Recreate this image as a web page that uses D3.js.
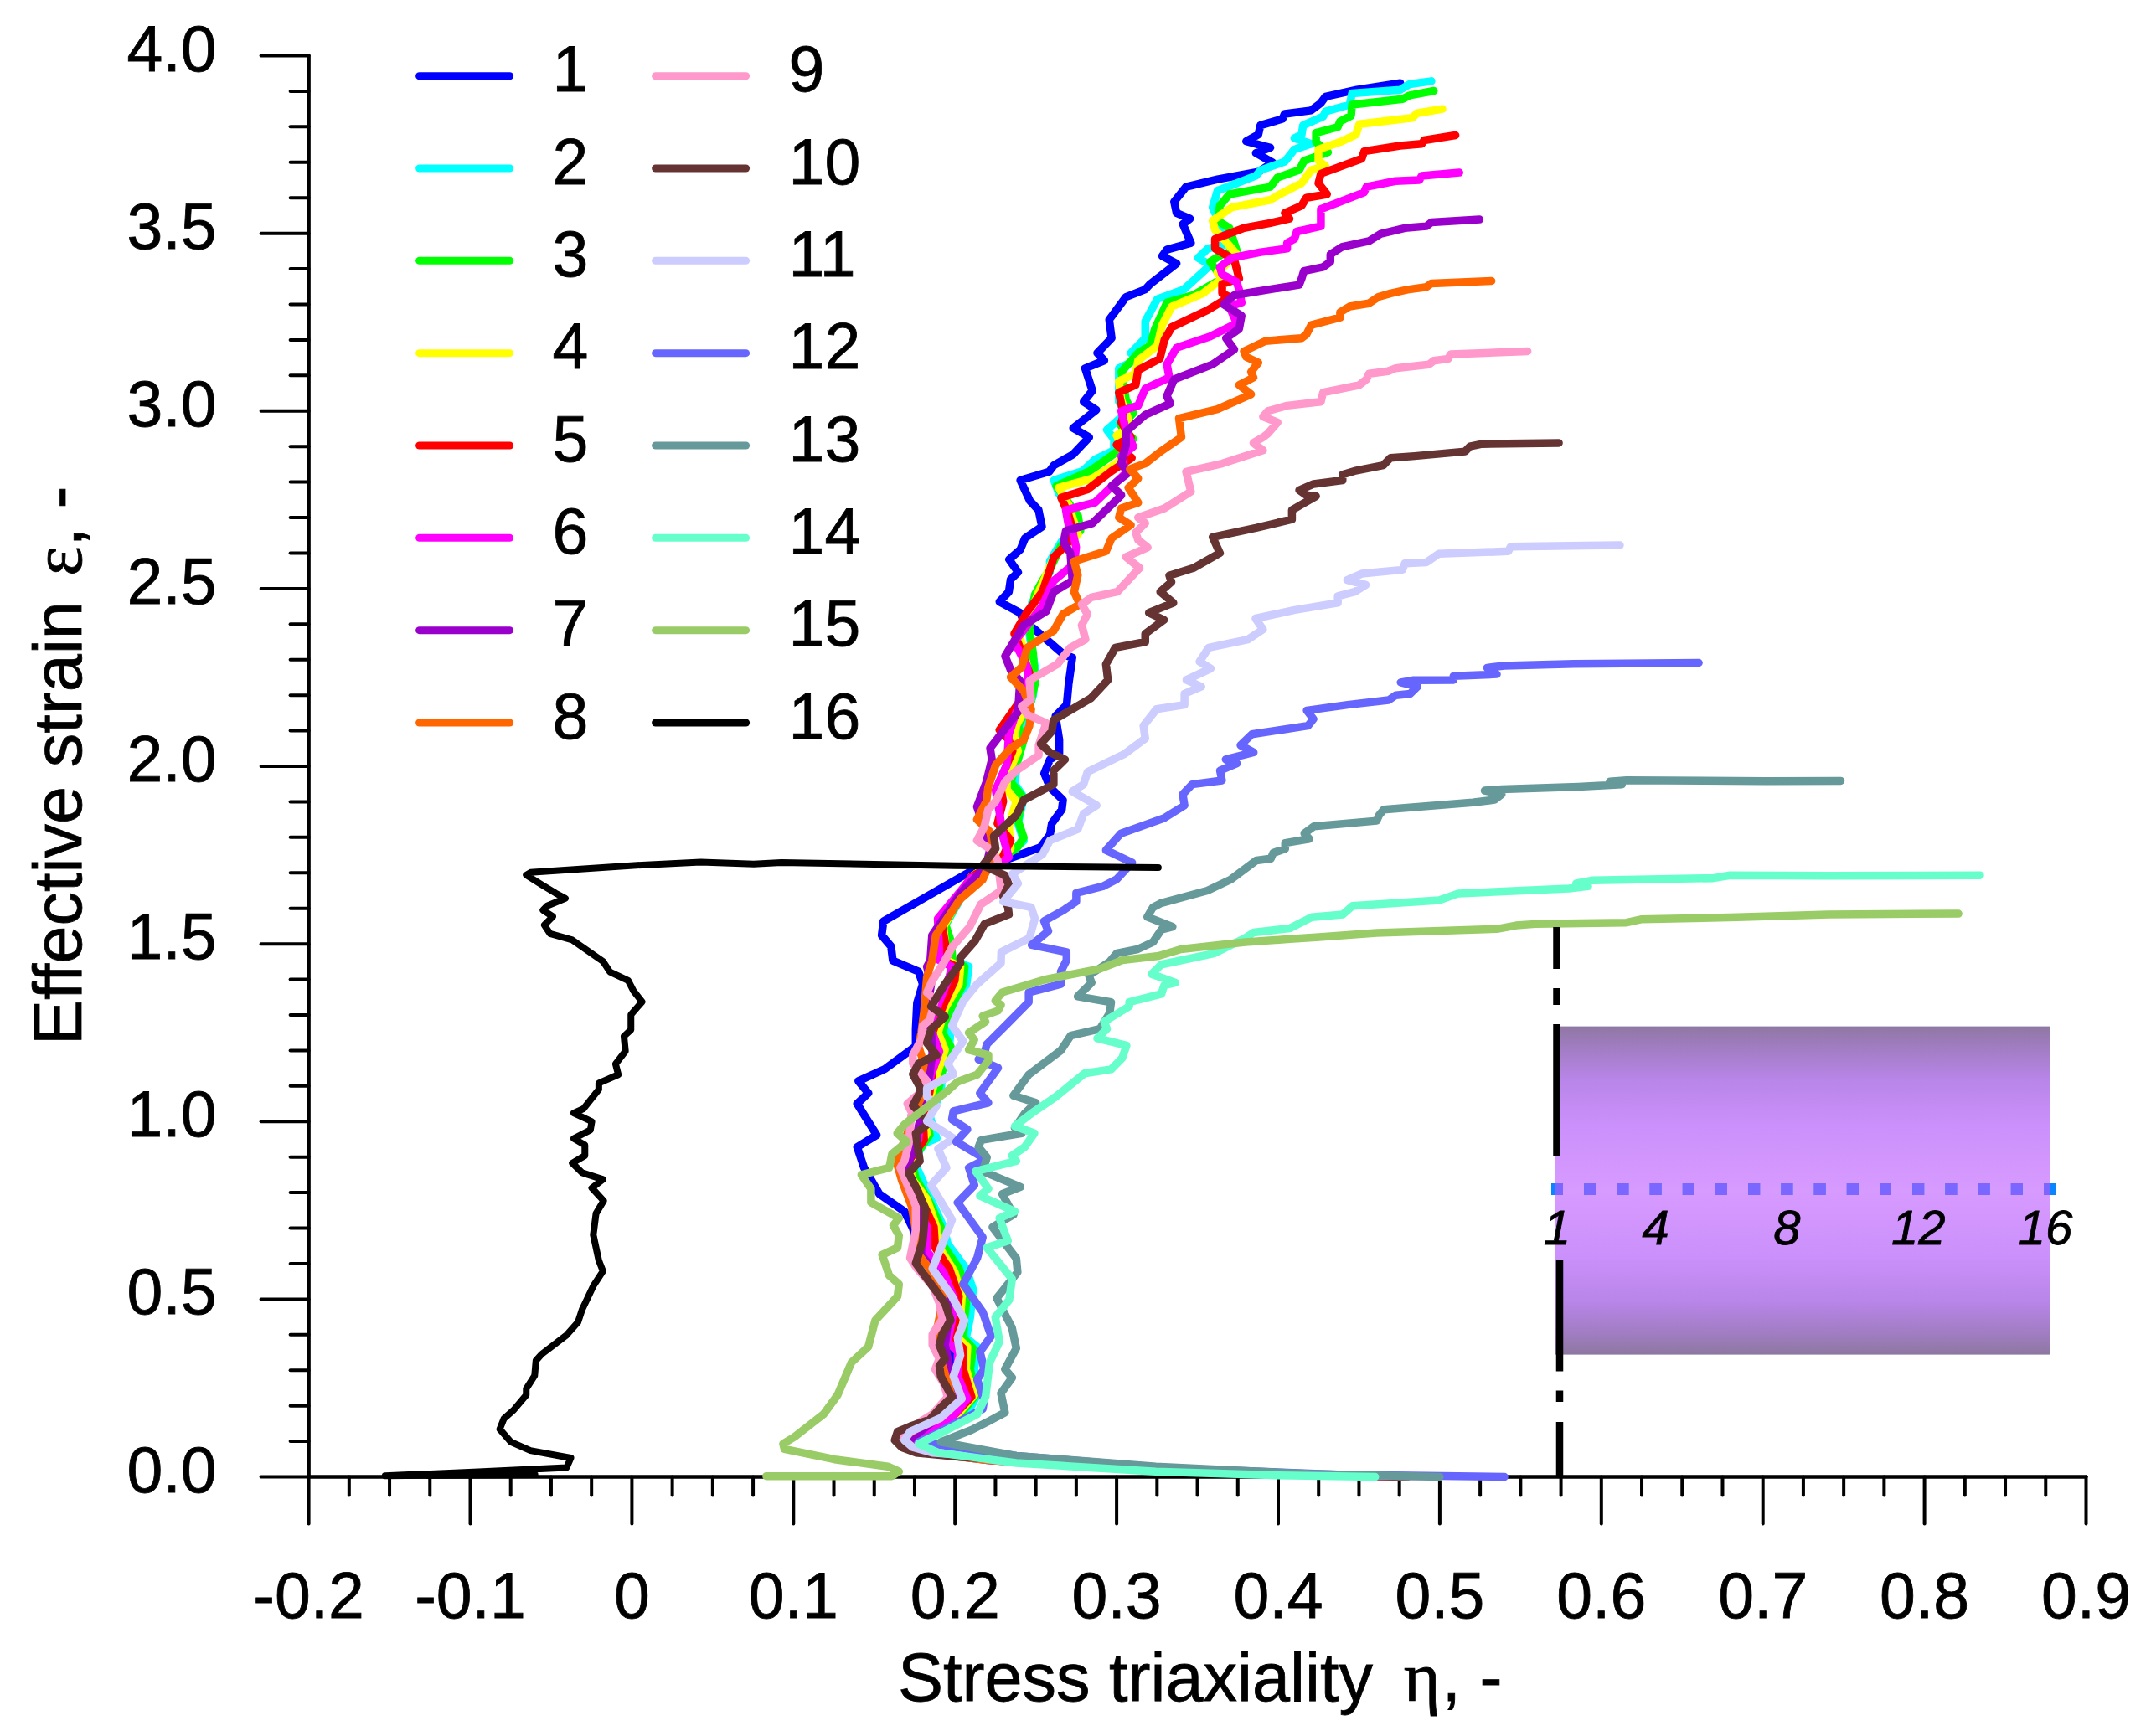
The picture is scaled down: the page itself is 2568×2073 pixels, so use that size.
<!DOCTYPE html>
<html>
<head>
<meta charset="utf-8">
<script src="https://d3js.org/d3.v7.min.js"></script>
<style>
  html, body { margin: 0; padding: 0; background: #fff; }
  svg { display: block; }
  text { font-family: "Liberation Sans", Arial, sans-serif; fill: #000; stroke: #000; stroke-width: 0.8px; }
</style>
</head>
<body>
<svg id="chart" width="2568" height="2073"></svg>
<script>
// curves as [stress triaxiality, effective strain]
const curve1 = [[0.4755,3.923],[0.4487,3.904],[0.4293,3.885],[0.4264,3.867],[0.4204,3.846],[0.404,3.836],[0.4026,3.822],[0.389,3.804],[0.3877,3.778],[0.3802,3.759],[0.3951,3.741],[0.3862,3.726],[0.3966,3.699],[0.3877,3.673],[0.3624,3.652],[0.343,3.631],[0.3356,3.589],[0.3371,3.557],[0.3454,3.541],[0.341,3.526],[0.346,3.473],[0.3311,3.454],[0.3282,3.436],[0.3371,3.415],[0.3207,3.357],[0.3177,3.342],[0.3058,3.321],[0.2954,3.257],[0.2969,3.205],[0.288,3.163],[0.2924,3.142],[0.2805,3.12],[0.285,3.057],[0.2796,3.026],[0.2874,3.003],[0.2731,2.952],[0.283,2.926],[0.2731,2.878],[0.2612,2.847],[0.2582,2.829],[0.2404,2.805],[0.2463,2.747],[0.2517,2.721],[0.2538,2.674],[0.2433,2.642],[0.2404,2.61],[0.2335,2.582],[0.239,2.546],[0.2344,2.526],[0.2333,2.491],[0.2275,2.463],[0.2402,2.432],[0.2425,2.408],[0.2494,2.385],[0.2675,2.314],[0.2726,2.306],[0.2703,2.232],[0.2691,2.173],[0.2622,2.141],[0.2645,2.074],[0.2645,2.035],[0.2587,2.019],[0.2552,1.98],[0.2587,1.941],[0.2668,1.905],[0.2661,1.878],[0.2599,1.839],[0.2587,1.807],[0.2529,1.772],[0.231,1.736],[0.2101,1.705],[0.1557,1.5635],[0.1546,1.524],[0.1604,1.493],[0.1615,1.453],[0.1774,1.422],[0.18,1.387],[0.1765,1.334],[0.1757,1.26],[0.1757,1.212],[0.1566,1.148],[0.1402,1.114],[0.1463,1.08],[0.1394,1.05],[0.1515,0.962],[0.1394,0.928],[0.1437,0.87],[0.1532,0.796],[0.1687,0.747],[0.1739,0.699],[0.178,0.63],[0.19,0.57],[0.2,0.5],[0.198,0.44],[0.196,0.38],[0.2,0.3],[0.206,0.22],[0.198,0.17],[0.176,0.11],[0.172,0.093],[0.184,0.068],[0.22,0.05],[0.32,0.018],[0.42,0.006],[0.5,0]];
const curve2 = [[0.4948,3.9285],[0.4814,3.92],[0.4755,3.904],[0.4457,3.894],[0.4442,3.862],[0.4293,3.843],[0.4278,3.829],[0.4154,3.804],[0.4145,3.778],[0.41,3.768],[0.4204,3.752],[0.41,3.736],[0.4041,3.702],[0.3892,3.678],[0.3862,3.662],[0.3624,3.62],[0.3594,3.573],[0.3639,3.526],[0.3713,3.473],[0.3564,3.457],[0.3505,3.431],[0.3579,3.41],[0.3415,3.342],[0.3252,3.315],[0.3177,3.252],[0.3177,3.205],[0.3088,3.163],[0.3133,3.147],[0.3014,3.12],[0.3014,3.026],[0.3058,2.994],[0.294,2.947],[0.2984,2.921],[0.2984,2.889],[0.2865,2.863],[0.279,2.831],[0.2612,2.805],[0.2642,2.768],[0.2731,2.705],[0.2761,2.663],[0.2657,2.631],[0.2587,2.577],[0.2587,2.546],[0.2541,2.522],[0.2518,2.491],[0.2476,2.46],[0.2448,2.404],[0.2471,2.342],[0.2494,2.279],[0.2483,2.2],[0.2425,2.12],[0.24,2.09],[0.238,1.996],[0.237,1.95],[0.2425,1.913],[0.239,1.839],[0.2425,1.79],[0.238,1.772],[0.2263,1.736],[0.2101,1.68],[0.1962,1.57],[0.1905,1.524],[0.194,1.461],[0.2085,1.436],[0.2068,1.378],[0.1981,1.3],[0.1964,1.211],[0.1921,1.143],[0.1912,1.08],[0.1843,1.016],[0.1886,0.953],[0.1808,0.938],[0.1731,0.884],[0.1774,0.86],[0.186,0.772],[0.1929,0.703],[0.1955,0.655],[0.2068,0.586],[0.2111,0.528],[0.2094,0.449],[0.2068,0.391],[0.2137,0.366],[0.212,0.303],[0.2137,0.23],[0.2085,0.186],[0.1964,0.147],[0.1826,0.112],[0.1757,0.093],[0.186,0.068],[0.2206,0.049],[0.324,0.017],[0.42,0.006],[0.49,0]];
const curve3 = [[0.4963,3.901],[0.4814,3.8885],[0.477,3.878],[0.4457,3.862],[0.4451,3.831],[0.4383,3.815],[0.4368,3.799],[0.4234,3.783],[0.4234,3.757],[0.4308,3.728],[0.416,3.704],[0.413,3.678],[0.3996,3.657],[0.3951,3.631],[0.3698,3.61],[0.3639,3.578],[0.3624,3.536],[0.3698,3.515],[0.3743,3.452],[0.3653,3.441],[0.3579,3.42],[0.3653,3.373],[0.3475,3.326],[0.3311,3.305],[0.3237,3.231],[0.3207,3.184],[0.3133,3.163],[0.3029,3.11],[0.3058,3.031],[0.3103,2.994],[0.3029,2.957],[0.3103,2.921],[0.2984,2.879],[0.2835,2.831],[0.2627,2.789],[0.2761,2.705],[0.2776,2.663],[0.2657,2.621],[0.2587,2.554],[0.2541,2.522],[0.2494,2.483],[0.246,2.389],[0.2483,2.318],[0.2494,2.232],[0.2471,2.184],[0.239,2.114],[0.2425,2.074],[0.239,2.019],[0.2344,1.956],[0.2414,1.917],[0.239,1.846],[0.2425,1.799],[0.238,1.768],[0.2263,1.736],[0.2101,1.689],[0.194,1.555],[0.1974,1.508],[0.1985,1.453],[0.2059,1.436],[0.205,1.387],[0.1964,1.309],[0.1921,1.25],[0.1973,1.211],[0.1921,1.143],[0.1895,1.084],[0.1826,1.016],[0.1843,0.962],[0.1731,0.889],[0.1757,0.84],[0.1843,0.772],[0.1912,0.703],[0.1929,0.65],[0.2024,0.586],[0.2076,0.518],[0.2059,0.449],[0.205,0.391],[0.2111,0.362],[0.2094,0.303],[0.2128,0.23],[0.205,0.186],[0.1808,0.112],[0.1748,0.093],[0.186,0.068],[0.2206,0.049],[0.32,0.018],[0.42,0.006],[0.49,0]];
const curve4 = [[0.5016,3.85],[0.4859,3.838],[0.4829,3.825],[0.4502,3.8075],[0.4481,3.778],[0.4383,3.757],[0.4249,3.736],[0.4249,3.705],[0.4293,3.689],[0.4204,3.678],[0.4145,3.641],[0.4011,3.61],[0.3951,3.594],[0.3713,3.573],[0.3594,3.536],[0.3609,3.51],[0.3683,3.473],[0.3743,3.441],[0.3683,3.415],[0.3624,3.389],[0.3653,3.373],[0.3535,3.331],[0.3341,3.294],[0.3282,3.242],[0.3252,3.184],[0.3133,3.142],[0.3118,3.105],[0.3014,3.084],[0.3029,3.031],[0.3088,2.957],[0.3,2.931],[0.3058,2.884],[0.3,2.852],[0.285,2.81],[0.2642,2.784],[0.2701,2.737],[0.2761,2.6525],[0.2612,2.589],[0.2564,2.538],[0.2518,2.491],[0.2471,2.436],[0.2402,2.365],[0.2448,2.279],[0.246,2.184],[0.2379,2.114],[0.2367,2.074],[0.239,2.043],[0.2321,1.972],[0.2321,1.933],[0.2379,1.9015],[0.2333,1.831],[0.2344,1.768],[0.2263,1.736],[0.2101,1.689],[0.1928,1.548],[0.1951,1.453],[0.2033,1.436],[0.2024,1.387],[0.1938,1.319],[0.1895,1.25],[0.1938,1.202],[0.1895,1.143],[0.186,1.089],[0.18,1.016],[0.1826,0.967],[0.1722,0.889],[0.1731,0.84],[0.1826,0.782],[0.1886,0.703],[0.1903,0.645],[0.1998,0.576],[0.2042,0.508],[0.2033,0.449],[0.2016,0.391],[0.2076,0.366],[0.2068,0.303],[0.2119,0.23],[0.2016,0.176],[0.1791,0.112],[0.1739,0.093],[0.186,0.068],[0.22,0.049],[0.32,0.018],[0.42,0.006],[0.49,0]];
const curve5 = [[0.5097,3.776],[0.4903,3.762],[0.4889,3.752],[0.4755,3.7465],[0.4532,3.731],[0.4517,3.71],[0.4264,3.668],[0.4249,3.641],[0.4302,3.61],[0.4174,3.6],[0.4145,3.578],[0.4041,3.557],[0.407,3.541],[0.3951,3.529],[0.3788,3.515],[0.3609,3.484],[0.3609,3.457],[0.3728,3.426],[0.3758,3.373],[0.3653,3.357],[0.3653,3.331],[0.3698,3.321],[0.3564,3.284],[0.3341,3.236],[0.3296,3.2],[0.3267,3.147],[0.3133,3.115],[0.3118,3.073],[0.3014,3.052],[0.3043,2.989],[0.3029,2.968],[0.3088,2.926],[0.3,2.905],[0.3094,2.868],[0.2969,2.831],[0.282,2.779],[0.2657,2.756],[0.2701,2.71],[0.2731,2.663],[0.2716,2.637],[0.2612,2.589],[0.2587,2.554],[0.2541,2.491],[0.2448,2.436],[0.2367,2.373],[0.2402,2.334],[0.246,2.263],[0.2402,2.184],[0.2275,2.102],[0.2333,2.074],[0.2356,2.043],[0.2275,1.956],[0.2298,1.9015],[0.2263,1.839],[0.2344,1.791],[0.2286,1.736],[0.2101,1.689],[0.1916,1.563],[0.1939,1.5],[0.1928,1.453],[0.2007,1.436],[0.1998,1.397],[0.1929,1.329],[0.186,1.25],[0.1895,1.192],[0.186,1.143],[0.1843,1.084],[0.18,1.016],[0.1808,0.948],[0.1705,0.884],[0.1714,0.83],[0.18,0.772],[0.1869,0.703],[0.1877,0.645],[0.1964,0.586],[0.2024,0.508],[0.2007,0.449],[0.1981,0.391],[0.205,0.362],[0.205,0.303],[0.2102,0.225],[0.1998,0.176],[0.1774,0.108],[0.1731,0.093],[0.1843,0.068],[0.22,0.048],[0.32,0.018],[0.42,0.006],[0.49,0]];
const curve6 = [[0.5121,3.671],[0.4888,3.662],[0.4874,3.65],[0.4725,3.647],[0.4546,3.631],[0.4531,3.615],[0.4264,3.568],[0.4264,3.52],[0.4115,3.505],[0.41,3.484],[0.4055,3.473],[0.4055,3.457],[0.3892,3.447],[0.3713,3.431],[0.3639,3.405],[0.3653,3.384],[0.3743,3.363],[0.3758,3.3415],[0.3773,3.305],[0.3698,3.294],[0.3743,3.247],[0.3579,3.21],[0.3371,3.178],[0.3311,3.131],[0.3326,3.094],[0.3177,3.063],[0.3133,3.015],[0.3029,3.0],[0.3058,2.947],[0.3103,2.9],[0.3029,2.873],[0.3058,2.826],[0.2865,2.742],[0.2686,2.721],[0.27,2.684],[0.2731,2.6525],[0.2749,2.617],[0.2738,2.57],[0.261,2.522],[0.2541,2.452],[0.2448,2.397],[0.2367,2.35],[0.2448,2.279],[0.246,2.184],[0.2379,2.153],[0.2333,2.09],[0.2321,2.004],[0.2251,1.933],[0.2275,1.87],[0.2298,1.799],[0.2333,1.744],[0.2263,1.721],[0.2101,1.685],[0.1893,1.571],[0.1905,1.453],[0.1981,1.436],[0.1964,1.407],[0.1895,1.329],[0.1843,1.27],[0.1903,1.197],[0.1852,1.133],[0.1826,1.084],[0.1783,1.016],[0.1774,0.948],[0.1687,0.884],[0.1696,0.821],[0.1774,0.762],[0.1826,0.703],[0.1826,0.635],[0.1929,0.576],[0.1998,0.498],[0.1981,0.44],[0.1955,0.381],[0.2016,0.352],[0.2016,0.283],[0.2076,0.22],[0.1981,0.166],[0.1757,0.108],[0.1722,0.093],[0.1843,0.068],[0.22,0.048],[0.32,0.018],[0.42,0.006],[0.49,0]];
const curve7 = [[0.5246,3.539],[0.4948,3.531],[0.4918,3.52],[0.4784,3.515],[0.4636,3.499],[0.4561,3.478],[0.4398,3.4625],[0.4323,3.441],[0.4323,3.42],[0.4278,3.405],[0.4159,3.394],[0.4145,3.373],[0.413,3.355],[0.3862,3.336],[0.3728,3.326],[0.3662,3.3],[0.3773,3.268],[0.3758,3.231],[0.3677,3.205],[0.3728,3.173],[0.3594,3.131],[0.3356,3.089],[0.3311,3.042],[0.3332,3.021],[0.3177,2.989],[0.3058,2.942],[0.3058,2.905],[0.3028,2.852],[0.3073,2.826],[0.2969,2.789],[0.3029,2.763],[0.285,2.684],[0.2686,2.663],[0.2672,2.631],[0.2714,2.6],[0.2726,2.522],[0.261,2.491],[0.2564,2.436],[0.2425,2.397],[0.231,2.31],[0.2344,2.271],[0.2402,2.24],[0.239,2.153],[0.2217,2.051],[0.2228,2.019],[0.2194,1.956],[0.2136,1.886],[0.2194,1.807],[0.2217,1.768],[0.2194,1.721],[0.2032,1.642],[0.1858,1.524],[0.1847,1.453],[0.1826,1.436],[0.1852,1.387],[0.1826,1.309],[0.1852,1.26],[0.186,1.192],[0.1843,1.133],[0.1808,1.055],[0.1774,0.987],[0.1757,0.938],[0.1714,0.884],[0.1687,0.83],[0.1757,0.762],[0.1791,0.703],[0.1791,0.625],[0.1895,0.567],[0.1955,0.489],[0.1955,0.43],[0.1938,0.371],[0.1964,0.313],[0.1998,0.235],[0.1947,0.186],[0.1731,0.108],[0.1696,0.093],[0.1826,0.068],[0.22,0.047],[0.32,0.018],[0.42,0.006],[0.49,0]];
const curve8 = [[0.532,3.366],[0.4948,3.359],[0.4918,3.349],[0.48,3.3415],[0.4695,3.331],[0.4621,3.321],[0.4561,3.303],[0.4442,3.294],[0.4383,3.278],[0.4383,3.263],[0.4204,3.242],[0.4174,3.215],[0.4145,3.205],[0.3921,3.197],[0.3788,3.168],[0.3802,3.152],[0.3877,3.136],[0.3832,3.11],[0.3847,3.094],[0.3758,3.073],[0.3832,3.047],[0.3624,3.005],[0.3386,2.979],[0.3401,2.926],[0.3267,2.884],[0.3177,2.852],[0.3082,2.8365],[0.3133,2.81],[0.3073,2.784],[0.3133,2.742],[0.3028,2.726],[0.3014,2.7],[0.3088,2.679],[0.2969,2.642],[0.2934,2.605],[0.2737,2.577],[0.276,2.538],[0.2737,2.491],[0.2772,2.456],[0.2668,2.428],[0.261,2.381],[0.2448,2.334],[0.2413,2.279],[0.2344,2.251],[0.2425,2.212],[0.2471,2.161],[0.246,2.114],[0.2425,2.074],[0.2344,2.051],[0.2252,2.004],[0.2205,1.941],[0.2194,1.9015],[0.2136,1.85],[0.2217,1.815],[0.224,1.752],[0.2171,1.681],[0.2032,1.626],[0.1881,1.524],[0.1858,1.453],[0.1826,1.407],[0.1808,1.309],[0.1791,1.25],[0.1774,1.211],[0.1808,1.163],[0.1791,1.124],[0.18,1.075],[0.1731,1.016],[0.1705,0.967],[0.1636,0.889],[0.167,0.835],[0.1731,0.762],[0.1757,0.694],[0.1774,0.625],[0.1843,0.586],[0.1929,0.508],[0.1895,0.43],[0.1869,0.391],[0.1929,0.303],[0.1981,0.225],[0.1912,0.186],[0.1687,0.112],[0.1661,0.093],[0.1808,0.068],[0.22,0.047],[0.32,0.018],[0.42,0.006],[0.49,0]];
const curve9 = [[0.5543,3.168],[0.5067,3.1595],[0.5052,3.147],[0.4963,3.1416],[0.4933,3.131],[0.4725,3.12],[0.468,3.112],[0.4562,3.105],[0.4546,3.089],[0.4502,3.073],[0.4278,3.052],[0.4264,3.026],[0.4055,3.015],[0.3936,3.0],[0.3906,2.984],[0.3996,2.968],[0.3936,2.9365],[0.3906,2.926],[0.3847,2.91],[0.3906,2.889],[0.3653,2.852],[0.343,2.829],[0.346,2.773],[0.3296,2.726],[0.3133,2.7],[0.3177,2.684],[0.3118,2.658],[0.3133,2.637],[0.3192,2.616],[0.3058,2.589],[0.3142,2.558],[0.3004,2.491],[0.2842,2.475],[0.2784,2.456],[0.2819,2.428],[0.2784,2.397],[0.2807,2.357],[0.2714,2.334],[0.2633,2.287],[0.2494,2.251],[0.246,2.24],[0.2471,2.188],[0.2413,2.169],[0.2448,2.145],[0.2564,2.122],[0.2518,2.059],[0.2518,2.031],[0.238,1.988],[0.231,1.956],[0.2252,1.9015],[0.2205,1.878],[0.2182,1.831],[0.2136,1.791],[0.2228,1.764],[0.2263,1.736],[0.2286,1.65],[0.2159,1.611],[0.209,1.548],[0.1985,1.493],[0.1929,1.446],[0.186,1.397],[0.1826,1.363],[0.1877,1.343],[0.1843,1.285],[0.18,1.27],[0.1791,1.231],[0.1739,1.187],[0.1739,1.163],[0.1791,1.133],[0.1826,1.114],[0.1791,1.084],[0.1705,1.05],[0.1731,1.026],[0.1722,0.987],[0.1714,0.938],[0.1687,0.889],[0.1661,0.87],[0.1705,0.821],[0.1757,0.762],[0.1757,0.694],[0.1722,0.616],[0.1765,0.586],[0.186,0.537],[0.1903,0.489],[0.1921,0.444],[0.186,0.401],[0.186,0.371],[0.1903,0.332],[0.1877,0.303],[0.1929,0.264],[0.1955,0.225],[0.186,0.176],[0.1757,0.147],[0.167,0.127],[0.1636,0.103],[0.1722,0.078],[0.2033,0.059],[0.3,0.025],[0.4,0.008],[0.49,0]];
const curve10 = [[0.5737,2.91],[0.5261,2.907],[0.5186,2.9],[0.5157,2.886],[0.4844,2.873],[0.4695,2.868],[0.465,2.847],[0.4472,2.831],[0.4398,2.821],[0.4398,2.805],[0.4219,2.7945],[0.413,2.777],[0.4174,2.763],[0.4234,2.76],[0.4145,2.737],[0.4085,2.721],[0.4085,2.695],[0.3862,2.671],[0.3594,2.645],[0.3639,2.6],[0.3475,2.558],[0.3326,2.537],[0.3339,2.5185],[0.327,2.491],[0.3351,2.46],[0.32,2.432],[0.3293,2.412],[0.3177,2.373],[0.3177,2.35],[0.2992,2.334],[0.2934,2.287],[0.2946,2.243],[0.2842,2.192],[0.261,2.13],[0.2599,2.098],[0.253,2.063],[0.2587,2.039],[0.268,2.019],[0.261,1.988],[0.261,1.949],[0.2425,1.905],[0.2379,1.862],[0.224,1.803],[0.2251,1.768],[0.2171,1.721],[0.231,1.693],[0.2333,1.666],[0.2298,1.634],[0.2328,1.603],[0.2333,1.583],[0.2182,1.556],[0.2124,1.509],[0.2032,1.461],[0.2033,1.446],[0.1938,1.387],[0.1852,1.324],[0.1938,1.295],[0.1852,1.26],[0.1826,1.221],[0.1886,1.187],[0.1774,1.163],[0.1739,1.133],[0.1791,1.089],[0.1739,1.045],[0.1843,0.997],[0.1757,0.967],[0.1782,0.889],[0.1713,0.855],[0.1774,0.801],[0.1817,0.752],[0.18,0.664],[0.1757,0.601],[0.186,0.537],[0.1938,0.489],[0.1973,0.44],[0.1921,0.401],[0.1903,0.371],[0.1938,0.332],[0.1903,0.313],[0.1912,0.283],[0.1981,0.225],[0.1912,0.195],[0.1843,0.161],[0.1722,0.142],[0.1644,0.127],[0.1627,0.103],[0.167,0.083],[0.1757,0.068],[0.2033,0.056],[0.3,0.028],[0.38,0.012],[0.48,0]];
const curve11 = [[0.6115,2.622],[0.59,2.621],[0.5439,2.618],[0.5424,2.605],[0.4993,2.598],[0.4918,2.574],[0.4784,2.571],[0.4769,2.553],[0.4517,2.542],[0.4427,2.524],[0.4542,2.5106],[0.4473,2.491],[0.4369,2.479],[0.4369,2.46],[0.4103,2.44],[0.386,2.416],[0.3906,2.385],[0.3813,2.357],[0.357,2.334],[0.3513,2.2945],[0.3582,2.275],[0.3432,2.243],[0.3524,2.224],[0.342,2.204],[0.342,2.173],[0.3247,2.161],[0.3166,2.114],[0.3177,2.078],[0.305,2.035],[0.282,1.984],[0.2795,1.949],[0.2726,1.929],[0.2876,1.89],[0.2795,1.866],[0.276,1.823],[0.2587,1.791],[0.2541,1.752],[0.2448,1.725],[0.2356,1.697],[0.239,1.67],[0.2298,1.619],[0.2471,1.603],[0.2494,1.571],[0.246,1.516],[0.2286,1.477],[0.2284,1.446],[0.2137,1.387],[0.205,1.339],[0.1981,1.27],[0.205,1.226],[0.1955,1.163],[0.199,1.133],[0.1826,1.094],[0.1826,1.07],[0.1886,1.045],[0.1826,1.001],[0.199,0.953],[0.1895,0.923],[0.1947,0.87],[0.1852,0.821],[0.1981,0.723],[0.186,0.586],[0.1981,0.508],[0.2059,0.44],[0.2016,0.391],[0.2033,0.342],[0.199,0.283],[0.2042,0.22],[0.1912,0.166],[0.1722,0.127],[0.1687,0.103],[0.1739,0.083],[0.186,0.068],[0.3,0.03],[0.4,0.01],[0.5,0]];
const curve12 = [[0.6603,2.291],[0.5829,2.288],[0.5397,2.283],[0.5293,2.277],[0.5353,2.259],[0.5085,2.254],[0.5085,2.243],[0.4832,2.242],[0.4758,2.236],[0.4862,2.224],[0.4817,2.204],[0.4728,2.2],[0.4683,2.186],[0.443,2.173],[0.4177,2.157],[0.4218,2.133],[0.4184,2.114],[0.3837,2.09],[0.3767,2.059],[0.3848,2.039],[0.3675,2.019],[0.3744,2.008],[0.364,1.988],[0.3652,1.96],[0.3467,1.949],[0.3409,1.921],[0.342,1.89],[0.3293,1.854],[0.3027,1.811],[0.2934,1.764],[0.3096,1.729],[0.3,1.682],[0.2914,1.662],[0.275,1.643],[0.275,1.619],[0.2672,1.595],[0.2551,1.564],[0.2577,1.536],[0.2474,1.497],[0.269,1.477],[0.269,1.454],[0.2655,1.422],[0.2655,1.387],[0.2456,1.3635],[0.2456,1.336],[0.231,1.269],[0.2197,1.218],[0.218,1.19],[0.2145,1.175],[0.2266,1.151],[0.2154,1.08],[0.2206,1.053],[0.199,1.029],[0.1981,1.006],[0.2076,0.978],[0.2007,0.943],[0.2189,0.894],[0.2085,0.87],[0.212,0.821],[0.2016,0.772],[0.2171,0.674],[0.2137,0.616],[0.205,0.542],[0.2171,0.464],[0.2223,0.396],[0.2154,0.352],[0.218,0.303],[0.2137,0.274],[0.218,0.215],[0.2171,0.191],[0.2068,0.166],[0.1843,0.112],[0.1774,0.098],[0.186,0.093],[0.2379,0.059],[0.33,0.025],[0.44,0.006],[0.54,0]];
const curve13 = [[0.7481,1.959],[0.7019,1.958],[0.6156,1.9605],[0.6052,1.957],[0.6127,1.949],[0.5859,1.9425],[0.5383,1.935],[0.5278,1.9315],[0.5383,1.921],[0.5338,1.9055],[0.5204,1.898],[0.4653,1.878],[0.4624,1.862],[0.4609,1.8465],[0.4222,1.831],[0.4162,1.811],[0.4192,1.7955],[0.4043,1.784],[0.4043,1.768],[0.3969,1.756],[0.3954,1.74],[0.3865,1.735],[0.3709,1.682],[0.3562,1.65],[0.3277,1.615],[0.3225,1.603],[0.319,1.576],[0.3346,1.548],[0.3277,1.54],[0.3225,1.505],[0.313,1.485],[0.3001,1.4735],[0.2957,1.45],[0.2828,1.411],[0.2845,1.391],[0.2759,1.352],[0.2966,1.336],[0.2957,1.305],[0.2897,1.261],[0.2716,1.242],[0.2655,1.2],[0.2456,1.132],[0.2361,1.073],[0.25,1.053],[0.243,1.022],[0.237,0.982],[0.2413,0.967],[0.2162,0.948],[0.2145,0.928],[0.2197,0.899],[0.2171,0.86],[0.2405,0.816],[0.2292,0.796],[0.2362,0.738],[0.2232,0.703],[0.2379,0.615],[0.2387,0.576],[0.2258,0.503],[0.2352,0.42],[0.2379,0.362],[0.2309,0.303],[0.2353,0.279],[0.2284,0.235],[0.2309,0.181],[0.2206,0.156],[0.2102,0.132],[0.1912,0.098],[0.2379,0.059],[0.3243,0.029],[0.42,0.008],[0.5,0]];
const curve14 = [[0.8344,1.693],[0.7406,1.692],[0.6796,1.693],[0.6692,1.685],[0.5948,1.679],[0.5844,1.67],[0.5918,1.662],[0.5799,1.656],[0.5115,1.642],[0.4996,1.623],[0.446,1.607],[0.44,1.583],[0.4207,1.575],[0.4072,1.544],[0.3848,1.532],[0.3796,1.517],[0.3606,1.4735],[0.3277,1.442],[0.3217,1.415],[0.3364,1.391],[0.3294,1.383],[0.3277,1.359],[0.3078,1.336],[0.3078,1.324],[0.2923,1.281],[0.294,1.261],[0.288,1.234],[0.3061,1.214],[0.3035,1.179],[0.2966,1.147],[0.2802,1.1355],[0.2621,1.069],[0.2482,1.026],[0.237,0.987],[0.2491,0.967],[0.2431,0.928],[0.2353,0.904],[0.2379,0.889],[0.2128,0.86],[0.2206,0.811],[0.2154,0.791],[0.237,0.747],[0.2275,0.728],[0.2327,0.664],[0.2197,0.645],[0.2353,0.557],[0.2335,0.498],[0.2249,0.449],[0.2275,0.381],[0.2214,0.322],[0.2189,0.225],[0.2137,0.176],[0.1929,0.127],[0.1774,0.093],[0.1895,0.068],[0.2379,0.039],[0.3243,0.015],[0.4,0.004],[0.46,0]];
const curve15 = [[0.821,1.585],[0.7406,1.583],[0.6841,1.575],[0.6245,1.569],[0.6156,1.56],[0.559,1.556],[0.5472,1.552],[0.5353,1.542],[0.4609,1.531],[0.4252,1.519],[0.4055,1.513],[0.3796,1.505],[0.3398,1.485],[0.326,1.466],[0.3035,1.454],[0.2897,1.43],[0.2551,1.399],[0.2292,1.3635],[0.2249,1.34],[0.2284,1.328],[0.2266,1.312],[0.2171,1.297],[0.2188,1.281],[0.2085,1.25],[0.2119,1.23],[0.2085,1.202],[0.2206,1.187],[0.2206,1.171],[0.2137,1.132],[0.2016,1.112],[0.1947,1.084],[0.1791,1.029],[0.1687,0.992],[0.1642,0.967],[0.1702,0.943],[0.161,0.909],[0.1593,0.87],[0.142,0.85],[0.148,0.811],[0.148,0.772],[0.1653,0.728],[0.1618,0.708],[0.1653,0.679],[0.1644,0.645],[0.1549,0.625],[0.1592,0.567],[0.1653,0.542],[0.1644,0.508],[0.1506,0.44],[0.1463,0.366],[0.1359,0.322],[0.1273,0.23],[0.1186,0.176],[0.1005,0.112],[0.0936,0.093],[0.0944,0.078],[0.1255,0.049],[0.1584,0.029],[0.1653,0.015],[0.161,0.002],[0.0832,0.002]];
const curve16 = [[0.3258,1.715],[0.2,1.72],[0.0925,1.729],[0.0754,1.725],[0.0426,1.73],[0.0063,1.722],[-0.0628,1.701],[-0.0654,1.694],[-0.0559,1.667],[-0.0473,1.643],[-0.0412,1.628],[-0.0525,1.607],[-0.055,1.595],[-0.049,1.577],[-0.0542,1.553],[-0.0507,1.529],[-0.0369,1.511],[-0.0179,1.451],[-0.0136,1.421],[-0.0023,1.397],[0.0011,1.367],[0.0063,1.337],[-0.0006,1.301],[-0.0006,1.258],[-0.0049,1.24],[-0.004,1.198],[-0.0101,1.162],[-0.0084,1.132],[-0.0205,1.108],[-0.0205,1.09],[-0.03,1.036],[-0.036,1.024],[-0.0248,1.0],[-0.0257,0.976],[-0.036,0.952],[-0.0291,0.934],[-0.0291,0.904],[-0.0369,0.883],[-0.0308,0.856],[-0.0179,0.837],[-0.0248,0.813],[-0.0175,0.777],[-0.0222,0.741],[-0.0239,0.681],[-0.0205,0.609],[-0.0179,0.579],[-0.0239,0.537],[-0.0308,0.471],[-0.0334,0.435],[-0.0404,0.399],[-0.0559,0.345],[-0.0594,0.327],[-0.0602,0.285],[-0.0654,0.248],[-0.0654,0.23],[-0.0732,0.188],[-0.0792,0.164],[-0.0818,0.134],[-0.0749,0.098],[-0.0628,0.074],[-0.0378,0.053],[-0.0404,0.026],[-0.095,0.014],[-0.1527,0.003],[-0.06,0.006]];

const curves = [curve1, curve2, curve3, curve4, curve5, curve6, curve7, curve8, curve9, curve10, curve11, curve12, curve13, curve14, curve15, curve16];
const curveNames = ['1','2','3','4','5','6','7','8','9','10','11','12','13','14','15','16'];
const curveColors = ['#0000ff','#00ffff','#00ff00','#ffff00','#ff0000','#ff00ff','#9900cc','#ff6600','#ff99cc','#663333','#ccccff','#6666ff','#669999','#66ffcc','#99cc66','#000000'];

const xTicks = [-0.2,-0.1,0,0.1,0.2,0.3,0.4,0.5,0.6,0.7,0.8,0.9];
const xTickLabels = ['-0.2','-0.1','0','0.1','0.2','0.3','0.4','0.5','0.6','0.7','0.8','0.9'];
const yTicks = [0,0.5,1,1.5,2,2.5,3,3.5,4];
const sectionPoints = [1,2,3,4,5,6,7,8,9,10,11,12,13,14,15,16];
const sectionLabels = [1,4,8,12,16];

const svg = d3.select('#chart');
const x = d3.scaleLinear().domain([-0.2, 0.9]).range([368.6, 2490.5]);
const y = d3.scaleLinear().domain([0, 4]).range([1763.5, 66.5]);

function minorValues(major, step, from, to) {
  const out = [];
  const n = Math.round((to - from) / step);
  for (let i = 0; i <= n; i++) {
    const v = +(from + i * step).toFixed(4);
    if (!major.some(m => Math.abs(m - v) < 1e-6)) out.push(v);
  }
  return out;
}

function styleAxis(g) {
  g.selectAll('path, line').attr('stroke', '#000').attr('stroke-width', 4).attr('stroke-linecap', 'round');
  g.selectAll('text').attr('font-size', 77).attr('fill', '#000').attr('font-family', '"Liberation Sans", Arial, sans-serif');
}

// axes
const xMinor = svg.append('g').attr('transform', `translate(0,${y(0)})`)
  .call(d3.axisBottom(x).tickValues(minorValues(xTicks, 0.025, -0.2, 0.9)).tickSize(22).tickSizeOuter(0).tickFormat('').offset(0));
styleAxis(xMinor);

const xMajor = svg.append('g').attr('transform', `translate(0,${y(0)})`)
  .call(d3.axisBottom(x).tickValues(xTicks).tickSize(56).tickSizeOuter(0).tickPadding(0)
    .tickFormat((d, i) => xTickLabels[i]).offset(0));
styleAxis(xMajor);
xMajor.selectAll('text').attr('dy', 0).attr('y', 168).attr('text-anchor', 'middle').attr('dominant-baseline', 'auto');

const yMinor = svg.append('g').attr('transform', `translate(${x(-0.2)},0)`)
  .call(d3.axisLeft(y).tickValues(minorValues(yTicks, 0.1, 0, 4)).tickSize(22).tickSizeOuter(0).tickFormat('').offset(0));
styleAxis(yMinor);

const yMajor = svg.append('g').attr('transform', `translate(${x(-0.2)},0)`)
  .call(d3.axisLeft(y).tickValues(yTicks).tickSize(57).tickSizeOuter(0).tickFormat(d3.format('.1f')).offset(0));
styleAxis(yMajor);
yMajor.selectAll('text').attr('x', -110).attr('dy', 18).attr('text-anchor', 'end');

// curves
const line = d3.line().x(d => x(d[0])).y(d => y(d[1]));
svg.append('g').selectAll('path')
  .data(curves)
  .enter().append('path')
  .attr('d', line)
  .attr('fill', 'none')
  .attr('stroke', (d, i) => curveColors[i])
  .attr('stroke-width', (d, i) => i === 15 ? 8 : 9.5)
  .attr('stroke-linejoin', 'round')
  .attr('stroke-linecap', 'round');

// legend, two columns of eight
const legendY = d3.scaleLinear().domain([0, 7]).range([90.7, 863]);
const legend = svg.append('g').selectAll('g')
  .data(curveNames)
  .enter().append('g')
  .attr('transform', (d, i) => `translate(${i < 8 ? 497.6 : 779.6},${legendY(i % 8)})`);
legend.append('line')
  .attr('x1', 3).attr('x2', 111)
  .attr('stroke', (d, i) => curveColors[i])
  .attr('stroke-width', 9)
  .attr('stroke-linecap', 'round');
legend.append('text')
  .attr('x', 162)
  .attr('y', 18.5)
  .attr('font-size', 77)
  .text(d => d);

// axis titles
const xTitle = svg.append('text').attr('x', 1072).attr('y', 2031).attr('font-size', 81);
xTitle.append('tspan').text('Stress triaxiality ');
xTitle.append('tspan').attr('dx', 14).attr('font-family', '"Liberation Serif", serif').attr('font-size', 84).text('η');
xTitle.append('tspan').attr('dx', 2).text(', -');

const yTitle = svg.append('text').attr('transform', 'translate(97,1248) rotate(-90)').attr('font-size', 81);
yTitle.append('tspan').text('Effective strain ');
yTitle.append('tspan').attr('dx', 8).attr('font-family', '"Liberation Serif", serif').attr('font-size', 84).text('ε');
yTitle.append('tspan').text(', -');

// specimen inset
const defs = svg.append('defs');
const grad = defs.append('linearGradient').attr('id', 'specimen').attr('x1', 0).attr('x2', 0).attr('y1', 0).attr('y2', 1);
[[0,'#8f78a3'],[0.06,'#a07cc0'],[0.16,'#b885e8'],[0.3,'#cb90fb'],[0.5,'#d79aff'],[0.7,'#cb90fb'],[0.84,'#b885e8'],[0.94,'#a07cc0'],[1,'#8c78a0']]
  .forEach(s => grad.append('stop').attr('offset', s[0]).attr('stop-color', s[1]));
defs.append('clipPath').attr('id', 'specimenClip').append('rect')
  .attr('x', 1857).attr('y', 1225.6).attr('width', 591).attr('height', 392);

svg.append('rect').attr('x', 1857).attr('y', 1225.6).attr('width', 591).attr('height', 392).attr('fill', 'url(#specimen)');

// symmetry axis, dash-dot with a small jog at the middle
[[1858.5,1107,1157],[1858.5,1180,1200],[1858.5,1223,1381],[1862,1504.5,1637.5],[1862,1660.5,1674],[1862,1698,1763]]
  .forEach(s => svg.append('line').attr('x1', s[0]).attr('x2', s[0]).attr('y1', s[1]).attr('y2', s[2])
    .attr('stroke', '#000').attr('stroke-width', 8.5));

const sectionX = d3.scaleLinear().domain([1, 16]).range([1859, 2447]);
function drawDots(g, color) {
  g.selectAll('rect').data(sectionPoints).enter().append('rect')
    .attr('x', d => sectionX(d) - 7).attr('y', 1413).attr('width', 14).attr('height', 14).attr('fill', color);
}
drawDots(svg.append('g'), '#0a84ff');
drawDots(svg.append('g').attr('clip-path', 'url(#specimenClip)'), '#7b66ff');

svg.append('g').selectAll('text').data(sectionLabels).enter().append('text')
  .attr('x', d => sectionX(d) - (d === 16 ? 5 : 0))
  .attr('y', 1486)
  .attr('font-size', 58)
  .attr('font-style', 'italic')
  .attr('text-anchor', 'middle')
  .attr('stroke-width', 0)
  .text(d => d);
</script>
</body>
</html>
